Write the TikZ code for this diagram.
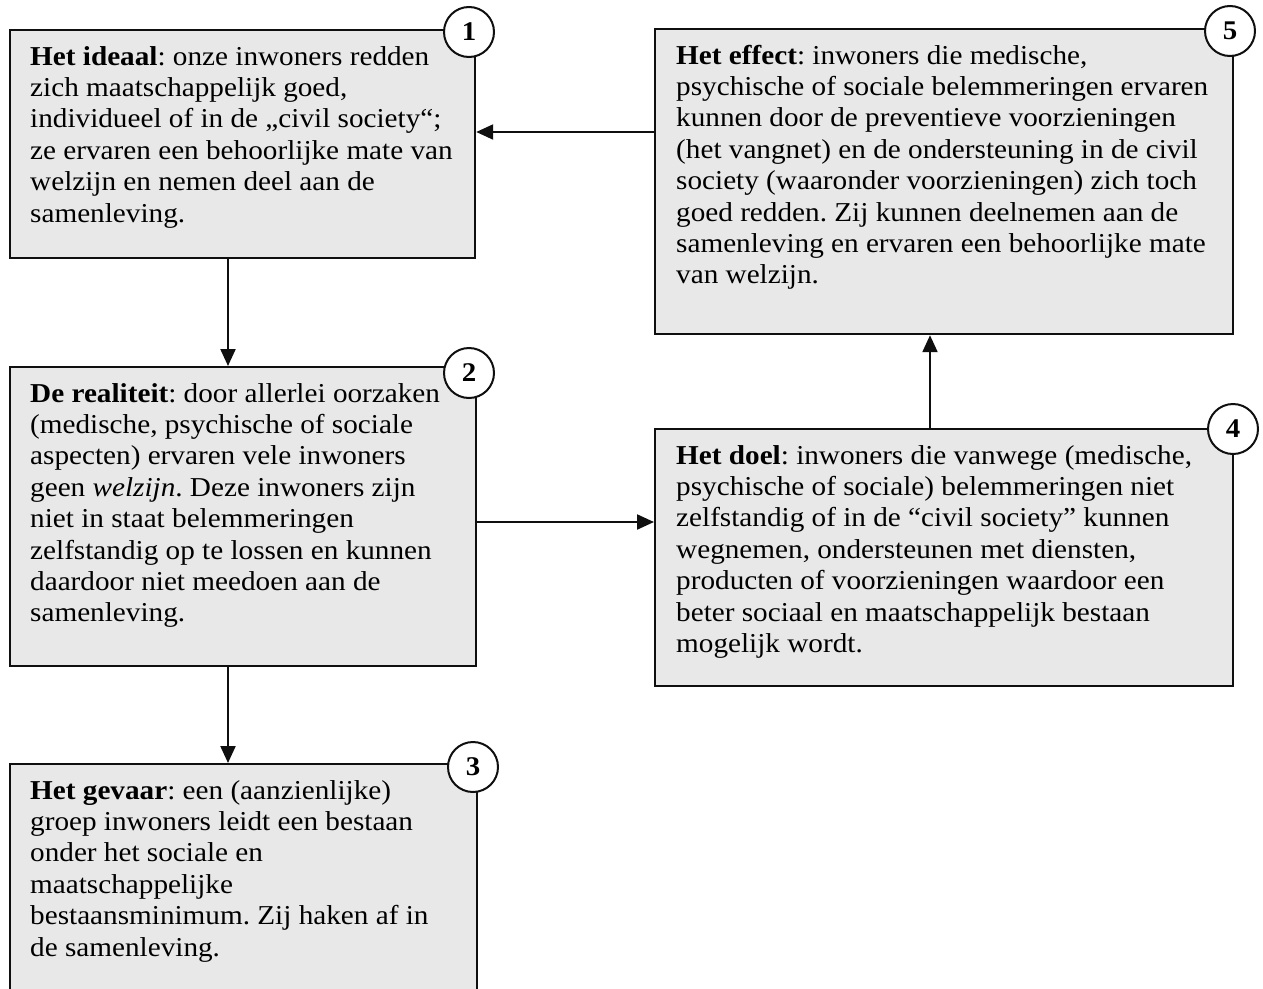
\documentclass[tikz,border=0pt]{standalone}
\usepackage{fontspec}
\setmainfont{Liberation Serif}[FakeStretch=1.07]
\usetikzlibrary{arrows.meta}
\definecolor{boxfill}{RGB}{232,232,232}
\definecolor{boxline}{RGB}{15,15,15}
\frenchspacing
\begin{document}
\begin{tikzpicture}[x=1pt,y=-1pt,
  box/.style={draw=boxline, fill=boxfill, line width=2.2pt, rectangle, inner sep=0pt, anchor=north west},
  txt/.style={anchor=north west, inner sep=0pt, align=left, font=\fontsize{27.3}{31.4}\selectfont},
  num/.style={circle, draw=boxline, fill=white, line width=2pt, minimum size=50pt, inner sep=0pt, font=\fontsize{27}{27}\selectfont\bfseries},
  arr/.style={draw=boxline, line width=2.2pt, -{Triangle[length=17pt,width=15pt]}}]
\clip (0,0) rectangle (1263,988);
% boxes
\node[box, minimum width=465pt, minimum height=228pt] (b1) at (9,29) {};
\node[box, minimum width=578pt, minimum height=305pt] (b5) at (654,28) {};
\node[box, minimum width=466pt, minimum height=299pt] (b2) at (9,366) {};
\node[box, minimum width=578pt, minimum height=257pt] (b4) at (654,428) {};
\node[box, minimum width=467pt, minimum height=260pt] (b3) at (9,763) {};
% texts
\node[txt] (t1) at ([shift={(21pt,-14pt)}]b1.north west) {\strut\textbf{Het ideaal}: onze inwoners redden\\
zich maatschappelijk goed,\\
individueel of in de „civil society“;\\
ze ervaren een behoorlijke mate van\\
welzijn en nemen deel aan de\\
samenleving.};
\node[txt] (t5) at ([shift={(22pt,-14pt)}]b5.north west) {\strut\textbf{Het effect}: inwoners die medische,\\
psychische of sociale belemmeringen ervaren\\
kunnen door de preventieve voorzieningen\\
(het vangnet) en de ondersteuning in de civil\\
society (waaronder voorzieningen) zich toch\\
goed redden. Zij kunnen deelnemen aan de\\
samenleving en ervaren een behoorlijke mate\\
van welzijn.};
\node[txt] (t2) at ([shift={(21pt,-14pt)}]b2.north west) {\strut\textbf{De realiteit}: door allerlei oorzaken\\
(medische, psychische of sociale\\
aspecten) ervaren vele inwoners\\
geen \textit{welzijn}. Deze inwoners zijn\\
niet in staat belemmeringen\\
zelfstandig op te lossen en kunnen\\
daardoor niet meedoen aan de\\
samenleving.};
\node[txt] (t4) at ([shift={(22pt,-14pt)}]b4.north west) {\strut\textbf{Het doel}: inwoners die vanwege (medische,\\
psychische of sociale) belemmeringen niet\\
zelfstandig of in de “civil society” kunnen\\
wegnemen, ondersteunen met diensten,\\
producten of voorzieningen waardoor een\\
beter sociaal en maatschappelijk bestaan\\
mogelijk wordt.};
\node[txt] (t3) at ([shift={(21pt,-14pt)}]b3.north west) {\strut\textbf{Het gevaar}: een (aanzienlijke)\\
groep inwoners leidt een bestaan\\
onder het sociale en\\
maatschappelijke\\
bestaansminimum. Zij haken af in\\
de samenleving.};
% connectors
\draw[arr] ([yshift=-104pt]b5.north west) -- ([yshift=-104pt]b5.north west -| b1.east);
\draw[arr] ([xshift=219pt]b1.south west) -- ([xshift=219pt]b1.south west |- b2.north);
\draw[arr] ([yshift=-156pt]b2.north east) -- ([yshift=-156pt]b2.north east -| b4.west);
\draw[arr] ([xshift=276pt]b4.north west) -- ([xshift=276pt]b4.north west |- b5.south);
\draw[arr] ([xshift=219pt]b2.south west) -- ([xshift=219pt]b2.south west |- b3.north);
% number circles
\node[num] (n1) at (469,32) {1};
\node[num] (n2) at (469,373) {2};
\node[num] (n3) at (473,767) {3};
\node[num] (n4) at (1233,429) {4};
\node[num] (n5) at (1230,31) {5};
\end{tikzpicture}
\end{document}
